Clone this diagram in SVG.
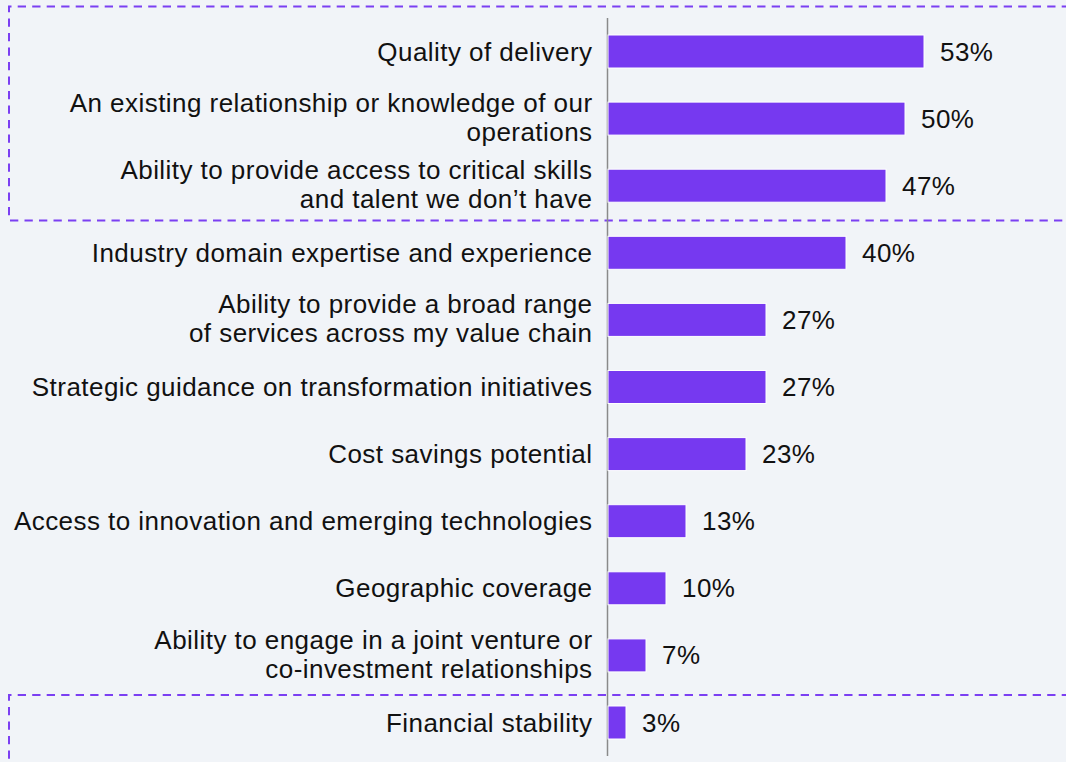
<svg xmlns="http://www.w3.org/2000/svg" width="1066" height="762" viewBox="0 0 1066 762">
<style>
.lbl{font-family:"Liberation Sans",Arial,sans-serif;font-size:26px;fill:#111;text-anchor:end;letter-spacing:0.45px}
.val{font-family:"Liberation Sans",Arial,sans-serif;font-size:26px;fill:#111;letter-spacing:0.45px}
.bar{fill:#7639F0;stroke:#ffffff;stroke-width:1}
.dash{fill:none;stroke:#7B3FF2;stroke-width:2;stroke-dasharray:8.3 6.2}
</style>
<rect width="1066" height="762" fill="#F1F4F8"/>
<g id="highlights">
<path class="dash" d="M1070,6.5 H9 V220.5 H1070"/>
<path class="dash" d="M1070,695 H9 V770"/>
</g>
<g id="connectors">
<line x1="607.5" y1="18" x2="607.5" y2="756" stroke="#8a8a8a" stroke-width="1.5"/>
</g>
<g id="row1"><rect class="bar" x="608" y="35" width="316" height="33"/><text class="lbl" x="592.5" y="60.5">Quality of delivery</text><text class="val" x="940" y="60.5">53%</text></g>
<g id="row2"><rect class="bar" x="608" y="102.1" width="297" height="33"/><text class="lbl" x="592.5" y="112">An existing relationship or knowledge of our</text><text class="lbl" x="592.5" y="141">operations</text><text class="val" x="921" y="127.6">50%</text></g>
<g id="row3"><rect class="bar" x="608" y="169.2" width="278" height="33"/><text class="lbl" x="592.5" y="179">Ability to provide access to critical skills</text><text class="lbl" x="592.5" y="208">and talent we don’t have</text><text class="val" x="902" y="194.7">47%</text></g>
<g id="row4"><rect class="bar" x="608" y="236.3" width="238" height="33"/><text class="lbl" x="592.5" y="261.8">Industry domain expertise and experience</text><text class="val" x="862" y="261.8">40%</text></g>
<g id="row5"><rect class="bar" x="608" y="303.4" width="158" height="33"/><text class="lbl" x="592.5" y="313.4">Ability to provide a broad range</text><text class="lbl" x="592.5" y="342.4">of services across my value chain</text><text class="val" x="782" y="328.9">27%</text></g>
<g id="row6"><rect class="bar" x="608" y="370.5" width="158" height="33"/><text class="lbl" x="592.5" y="396">Strategic guidance on transformation initiatives</text><text class="val" x="782" y="396">27%</text></g>
<g id="row7"><rect class="bar" x="608" y="437.6" width="138" height="33"/><text class="lbl" x="592.5" y="463.1">Cost savings potential</text><text class="val" x="762" y="463.1">23%</text></g>
<g id="row8"><rect class="bar" x="608" y="504.7" width="78" height="33"/><text class="lbl" x="592.5" y="530.2">Access to innovation and emerging technologies</text><text class="val" x="702" y="530.2">13%</text></g>
<g id="row9"><rect class="bar" x="608" y="571.8" width="58" height="33"/><text class="lbl" x="592.5" y="597.3">Geographic coverage</text><text class="val" x="682" y="597.3">10%</text></g>
<g id="row10"><rect class="bar" x="608" y="638.9" width="38" height="33"/><text class="lbl" x="592.5" y="648.9">Ability to engage in a joint venture or</text><text class="lbl" x="592.5" y="677.9">co-investment relationships</text><text class="val" x="662" y="664.4">7%</text></g>
<g id="row11"><rect class="bar" x="608" y="706" width="18" height="33"/><text class="lbl" x="592.5" y="731.5">Financial stability</text><text class="val" x="642" y="731.5">3%</text></g>
</svg>
